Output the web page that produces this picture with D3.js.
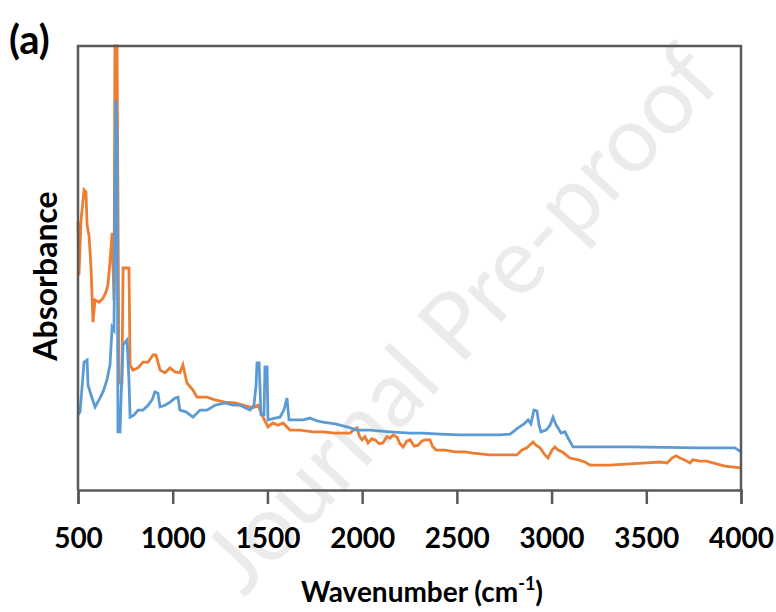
<!DOCTYPE html>
<html>
<head>
<meta charset="utf-8">
<script src="https://cdn.jsdelivr.net/npm/d3@7"></script>
<style>
  html, body { margin: 0; padding: 0; background: #fff; }
  svg { display: block; }
</style>
</head>
<body>
<svg id="chart" width="776" height="612"></svg>
<script>
// ---- data ----
const panelLabel = "(a)";
const xTitle = "Wavenumber (cm";
const yTitle = "Absorbance";
const watermark = "Journal Pre-proof";
const xTicks = [500, 1000, 1500, 2000, 2500, 3000, 3500, 4000];
const xDomain = [500, 4000];
const yDomain = [0, 1];

// blue spectrum: [wavenumber, absorbance (a.u.)]
const seriesBlue = [
  [500,0.169],[511,0.176],[532,0.288],[548,0.293],[553,0.236],[569,0.214],[590,0.187],
  [611,0.203],[632,0.221],[653,0.248],[669,0.282],[680,0.367],[690,0.360],[695,0.653],
  [701,0.878],[706,0.788],[711,0.131],[722,0.131],[727,0.203],[738,0.327],[759,0.338],
  [769,0.248],[775,0.164],[796,0.169],[817,0.180],[843,0.180],[870,0.191],[891,0.203],
  [906,0.221],[922,0.218],[933,0.187],[959,0.191],[986,0.198],[1012,0.207],[1028,0.209],
  [1038,0.180],[1070,0.176],[1107,0.164],[1144,0.180],[1181,0.180],[1223,0.191],[1276,0.196],
  [1318,0.191],[1355,0.191],[1408,0.180],[1429,0.191],[1440,0.236],[1445,0.286],[1456,0.286],
  [1466,0.169],[1482,0.169],[1487,0.277],[1498,0.277],[1503,0.158],[1540,0.162],[1566,0.164],
  [1587,0.180],[1603,0.207],[1614,0.158],[1646,0.158],[1688,0.158],[1725,0.162],[1767,0.155],
  [1793,0.153],[1857,0.149],[1920,0.142],[1973,0.135],[2041,0.135],[2147,0.131],[2253,0.128],
  [2321,0.128],[2411,0.126],[2517,0.124],[2622,0.124],[2728,0.124],[2781,0.126],[2823,0.140],
  [2855,0.149],[2876,0.158],[2891,0.149],[2907,0.180],[2923,0.178],[2934,0.146],[2944,0.131],
  [2971,0.135],[2992,0.146],[3008,0.164],[3024,0.146],[3034,0.140],[3050,0.128],[3071,0.131],
  [3087,0.117],[3113,0.097],[3256,0.097],[3414,0.097],[3783,0.095],[3968,0.095],[4000,0.086]
];

// orange spectrum: [wavenumber, absorbance (a.u.)]
const seriesOrange = [
  [500,0.604],[505,0.484],[516,0.608],[532,0.676],[542,0.671],[548,0.597],[558,0.574],
  [569,0.500],[579,0.378],[590,0.428],[611,0.423],[632,0.432],[648,0.446],[658,0.462],
  [669,0.514],[680,0.579],[690,0.428],[695,1.000],[706,1.000],[711,0.653],[716,0.241],
  [732,0.241],[738,0.500],[769,0.500],[775,0.282],[790,0.270],[817,0.275],[843,0.288],
  [870,0.288],[896,0.304],[912,0.304],[933,0.270],[959,0.264],[986,0.275],[1012,0.266],
  [1038,0.264],[1054,0.282],[1075,0.241],[1107,0.225],[1128,0.209],[1181,0.209],[1223,0.203],
  [1276,0.198],[1329,0.196],[1371,0.191],[1424,0.185],[1450,0.191],[1477,0.164],[1503,0.142],
  [1529,0.151],[1556,0.146],[1582,0.151],[1619,0.135],[1672,0.135],[1741,0.131],[1793,0.131],
  [1857,0.128],[1936,0.128],[1960,0.137],[1973,0.140],[1985,0.122],[1999,0.113],[2015,0.120],
  [2031,0.106],[2050,0.115],[2068,0.113],[2090,0.104],[2110,0.106],[2130,0.120],[2147,0.117],
  [2165,0.124],[2184,0.119],[2200,0.104],[2216,0.097],[2235,0.110],[2253,0.113],[2275,0.099],
  [2295,0.101],[2315,0.110],[2332,0.113],[2358,0.113],[2372,0.098],[2390,0.090],[2437,0.090],
  [2490,0.086],[2543,0.086],[2585,0.083],[2675,0.079],[2754,0.079],[2817,0.079],[2844,0.090],
  [2870,0.095],[2902,0.108],[2918,0.101],[2939,0.095],[2965,0.079],[2981,0.072],[3002,0.090],
  [3018,0.097],[3034,0.090],[3055,0.086],[3076,0.079],[3097,0.072],[3140,0.068],[3176,0.063],
  [3203,0.056],[3308,0.056],[3414,0.059],[3504,0.061],[3573,0.063],[3610,0.061],[3636,0.072],
  [3657,0.077],[3678,0.072],[3700,0.068],[3731,0.061],[3745,0.068],[3783,0.065],[3820,0.065],
  [3852,0.061],[3915,0.054],[4000,0.050]
];

// ---- drawing ----
const svg = d3.select("#chart");
const W = 776, H = 612;
const m = { left: 78, right: 776 - 741, top: 46, bottom: 612 - 490 };
const iw = W - m.left - m.right, ih = H - m.top - m.bottom;

const FONT = "Lato, 'Open Sans', 'DejaVu Sans', sans-serif";
const frameColor = "#595959";

// watermark (pale, behind the chart)
svg.append("text")
  .attr("transform", "translate(244,598) rotate(-47)")
  .attr("font-family", FONT)
  .attr("font-size", 92)
  .attr("fill", "#ebebeb")
  .text(watermark);

const x = d3.scaleLinear().domain(xDomain).range([0, iw]);
const y = d3.scaleLinear().domain(yDomain).range([ih, 0]);

const g = svg.append("g").attr("transform", `translate(${m.left},${m.top})`);

const line = d3.line().x(d => x(d[0])).y(d => y(d[1]));

g.append("path").datum(seriesOrange)
  .attr("fill", "none").attr("stroke", "#ED7D31").attr("stroke-width", 2.8)
  .attr("stroke-linejoin", "miter").attr("d", line);

g.append("path").datum(seriesBlue)
  .attr("fill", "none").attr("stroke", "#5B9BD5").attr("stroke-width", 2.8)
  .attr("stroke-linejoin", "miter").attr("d", line);

// frame (left, top, right)
g.append("path")
  .attr("d", `M0,${ih}V0H${iw}V${ih}`)
  .attr("fill", "none").attr("stroke", frameColor).attr("stroke-width", 2.5);

// bottom axis
const xAxis = g.append("g")
  .attr("transform", `translate(0,${ih})`)
  .call(d3.axisBottom(x).tickValues(xTicks).tickFormat(d3.format("d"))
    .tickSize(14).tickSizeOuter(14).tickPadding(24));
xAxis.select(".domain").attr("stroke", frameColor).attr("stroke-width", 2.5);
xAxis.selectAll(".tick line").attr("stroke", frameColor).attr("stroke-width", 2.5);
xAxis.selectAll(".tick text")
  .attr("font-family", FONT).attr("font-weight", "bold").attr("font-size", 28)
  .attr("fill", "#000");

// x title with superscript
const xt = svg.append("text")
  .attr("x", 422).attr("y", 602)
  .attr("text-anchor", "middle")
  .attr("font-family", FONT).attr("font-weight", "bold").attr("font-size", 28)
  .attr("fill", "#000");
xt.append("tspan").text(xTitle);
xt.append("tspan").attr("dy", -12).attr("font-size", 18).text("-1");
xt.append("tspan").attr("dy", 12).text(")");

// y title
svg.append("text")
  .attr("transform", `translate(57,276) rotate(-90)`)
  .attr("text-anchor", "middle")
  .attr("font-family", FONT).attr("font-weight", "bold").attr("font-size", 32)
  .attr("fill", "#000")
  .text(yTitle);

// panel label
svg.append("text")
  .attr("x", 9).attr("y", 54)
  .attr("font-family", FONT).attr("font-weight", "bold").attr("font-size", 40)
  .attr("fill", "#000")
  .text(panelLabel);
</script>
</body>
</html>
